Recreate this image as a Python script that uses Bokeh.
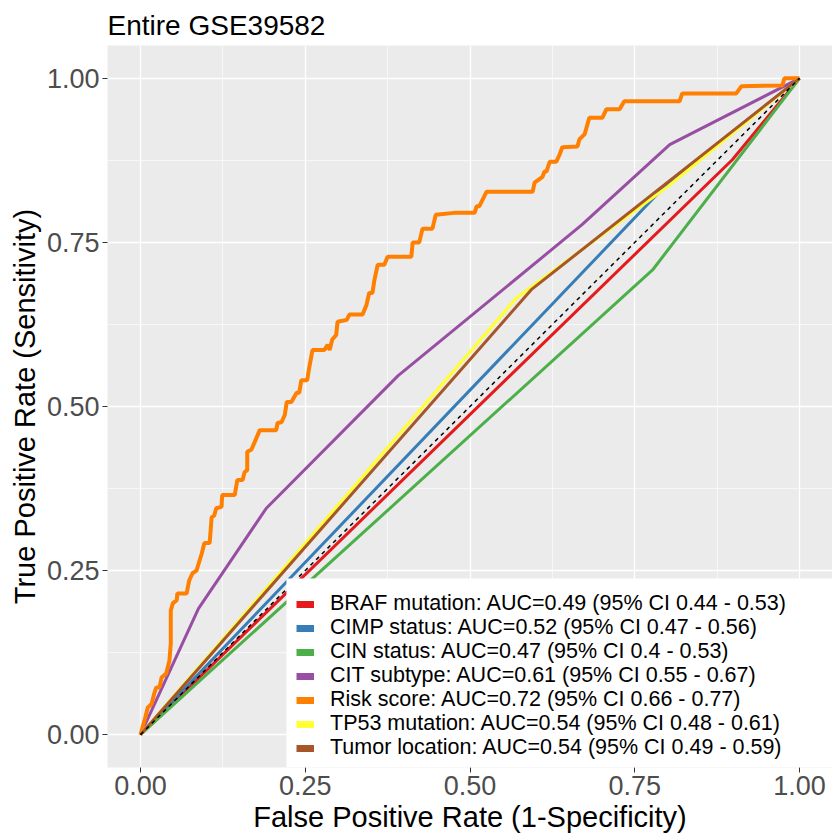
from bokeh.plotting import figure
from bokeh.models import Range1d, FixedTicker, PrintfTickFormatter, BoxAnnotation, Legend, LegendItem
from bokeh.embed import file_html
from bokeh.resources import INLINE

# ---------------- data ----------------
series_names = ["BRAF mutation", "CIMP status", "CIN status", "CIT subtype",
                "Risk score", "TP53 mutation", "Tumor location"]
auc_labels = [
    "BRAF mutation: AUC=0.49 (95% CI 0.44 - 0.53)",
    "CIMP status: AUC=0.52 (95% CI 0.47 - 0.56)",
    "CIN status: AUC=0.47 (95% CI 0.4 - 0.53)",
    "CIT subtype: AUC=0.61 (95% CI 0.55 - 0.67)",
    "Risk score: AUC=0.72 (95% CI 0.66 - 0.77)",
    "TP53 mutation: AUC=0.54 (95% CI 0.48 - 0.61)",
    "Tumor location: AUC=0.54 (95% CI 0.49 - 0.59)",
]
colors = ["#E41A1C", "#377EB8", "#4DAF4A", "#984EA3", "#FF7F00", "#FFFF33", "#A65628"]

braf_fpr = [0, 0.898, 1]
braf_tpr = [0, 0.876, 1]
cimp_fpr = [0, 0.80, 1]
cimp_tpr = [0, 0.84, 1]
cin_fpr = [0, 0.777, 1]
cin_tpr = [0, 0.708, 1]
cit_fpr = [0, 0.088, 0.191, 0.391, 0.67, 0.803, 1]
cit_tpr = [0, 0.192, 0.345, 0.547, 0.777, 0.899, 1]
risk_fpr = [0, 0.006, 0.011, 0.017, 0.021, 0.024, 0.029, 0.032, 0.039, 0.044,
            0.046, 0.046, 0.049, 0.055, 0.056, 0.070, 0.074, 0.079, 0.085, 0.093,
            0.097, 0.105, 0.108, 0.112, 0.115, 0.123, 0.124, 0.143, 0.147, 0.155,
            0.158, 0.162, 0.162, 0.168, 0.170, 0.181, 0.206, 0.208, 0.214, 0.219,
            0.222, 0.229, 0.237, 0.241, 0.244, 0.253, 0.256, 0.261, 0.279, 0.284,
            0.287, 0.291, 0.297, 0.299, 0.313, 0.317, 0.337, 0.343, 0.347, 0.352,
            0.355, 0.360, 0.370, 0.375, 0.411, 0.413, 0.423, 0.428, 0.443, 0.448,
            0.476, 0.507, 0.510, 0.514, 0.525, 0.595, 0.598, 0.610, 0.613, 0.616,
            0.621, 0.631, 0.636, 0.640, 0.663, 0.666, 0.674, 0.681, 0.701, 0.707,
            0.727, 0.734, 0.818, 0.822, 0.904, 0.912, 0.974, 0.977, 1.0]
risk_tpr = [0, 0.021, 0.041, 0.047, 0.063, 0.072, 0.072, 0.087, 0.093, 0.113,
            0.139, 0.189, 0.200, 0.205, 0.215, 0.215, 0.235, 0.246, 0.250, 0.276,
            0.292, 0.292, 0.331, 0.334, 0.345, 0.347, 0.365, 0.365, 0.388, 0.388,
            0.400, 0.403, 0.431, 0.434, 0.438, 0.464, 0.464, 0.475, 0.476, 0.487,
            0.507, 0.507, 0.521, 0.521, 0.540, 0.540, 0.559, 0.586, 0.586, 0.594,
            0.586, 0.602, 0.609, 0.629, 0.632, 0.640, 0.640, 0.655, 0.673, 0.673,
            0.693, 0.716, 0.716, 0.728, 0.728, 0.750, 0.750, 0.771, 0.771, 0.792,
            0.795, 0.795, 0.805, 0.805, 0.827, 0.827, 0.841, 0.850, 0.858, 0.858,
            0.873, 0.873, 0.884, 0.895, 0.896, 0.907, 0.915, 0.940, 0.940, 0.953,
            0.953, 0.965, 0.965, 0.977, 0.977, 0.988, 0.989, 1.0, 1.0]
tp53_fpr = [0, 0.57, 0.80, 1]
tp53_tpr = [0, 0.665, 0.835, 1]
loc_fpr = [0, 0.593, 1]
loc_tpr = [0, 0.678, 1]
diag_x = [0, 1]
diag_y = [0, 1]

axis_ticks = [0, 0.25, 0.5, 0.75, 1.0]
minor_ticks = [0.125, 0.375, 0.625, 0.875]

curves = [(braf_fpr, braf_tpr), (cimp_fpr, cimp_tpr), (cin_fpr, cin_tpr),
          (cit_fpr, cit_tpr), (risk_fpr, risk_tpr), (tp53_fpr, tp53_tpr),
          (loc_fpr, loc_tpr)]

FONT = "Liberation Sans"

p = figure(width=832, height=835, output_backend="svg", toolbar_location=None,
           x_range=Range1d(-0.05, 1.05), y_range=Range1d(-0.05, 1.05),
           min_border_left=107, min_border_right=0, min_border_top=45,
           min_border_bottom=67,
           background_fill_color="#EBEBEB", border_fill_color="white",
           outline_line_color=None,
           x_axis_label="False Positive Rate (1-Specificity)",
           y_axis_label="True Positive Rate (Sensitivity)")

# off-screen range used only by the legend-key renderers
p.extra_x_ranges = {"keys": Range1d(10, 11)}

p.title.text = "Entire GSE39582"
p.title.text_font = FONT
p.title.text_font_size = "28px"
p.title.text_font_style = "normal"
p.title.text_color = "black"
p.title.align = "left"

for ax in (p.xaxis[0], p.yaxis[0]):
    ax.ticker = FixedTicker(ticks=axis_ticks, minor_ticks=minor_ticks)
    ax.formatter = PrintfTickFormatter(format="%.2f")
    ax.axis_line_color = None
    ax.major_tick_line_color = "#333333"
    ax.major_tick_line_width = 1
    ax.major_tick_out = 5
    ax.major_tick_in = 0
    ax.minor_tick_line_color = None
    ax.major_label_text_font = FONT
    ax.major_label_text_font_size = "27px"
    ax.major_label_text_color = "#4D4D4D"
    ax.major_label_standoff = 3
    ax.axis_label_text_font = FONT
    ax.axis_label_text_font_size = "29px"
    ax.axis_label_text_font_style = "normal"
    ax.axis_label_text_color = "black"
    ax.axis_label_standoff = 3

for g in (p.xgrid[0], p.ygrid[0]):
    g.grid_line_color = "white"
    g.grid_line_width = 1.3
    g.minor_grid_line_color = "white"
    g.minor_grid_line_width = 0.6

for (fx, ty), c, name in zip(curves, colors, series_names):
    w = 4 if name == "Risk score" else 3
    p.line(fx, ty, line_color=c, line_width=w)

p.line(diag_x, diag_y, line_color="black", line_width=1.5, line_dash="4 4")

# legend background box
box = BoxAnnotation(left=0.2215, right=1.05, bottom=-0.05, top=0.238,
                    fill_color="white", fill_alpha=1.0, line_color=None)
p.add_layout(box)

# one single-row legend per series so the row pitch is controlled exactly
n = len(auc_labels)
ROW = 24
for i, ((fx, ty), c, lab) in enumerate(zip(curves, colors, auc_labels)):
    r = p.line(fx, ty, line_color=c, line_width=7, x_range_name="keys")
    lg = Legend(items=[LegendItem(label=lab, renderers=[r])],
                location=(189, 7 + (n - 1 - i) * ROW), orientation="vertical",
                glyph_width=18, glyph_height=ROW, label_height=ROW, spacing=0,
                padding=0, margin=0, label_standoff=16,
                label_text_font=FONT, label_text_font_size="21.5px",
                label_text_color="black", background_fill_alpha=0,
                border_line_color=None)
    p.add_layout(lg)

open("out.html", "w").write(file_html(p, INLINE))
